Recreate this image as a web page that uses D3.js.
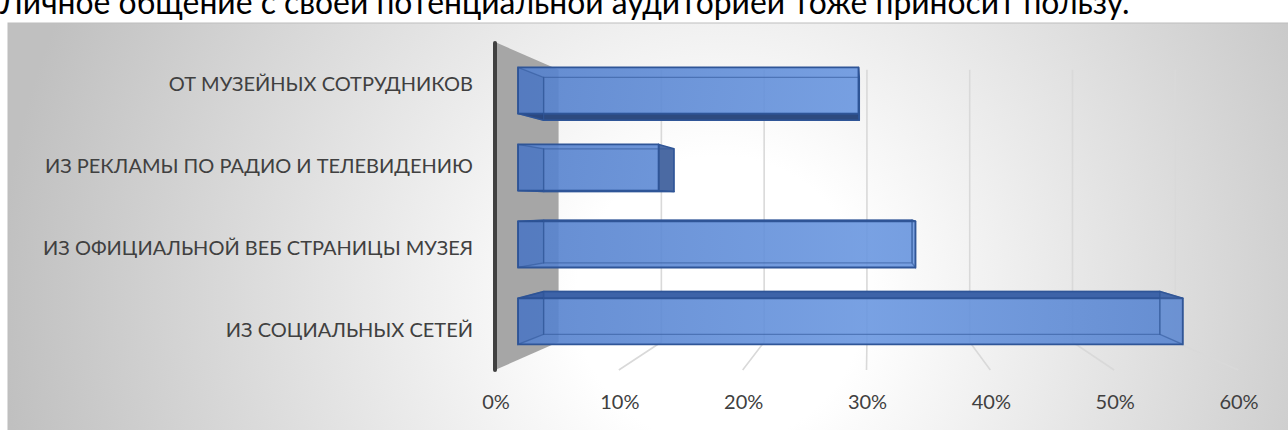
<!DOCTYPE html>
<html>
<head>
<meta charset="utf-8">
<script src="https://cdn.jsdelivr.net/npm/d3@7"></script>
<style>
  html, body { margin: 0; padding: 0; background: #ffffff; overflow: hidden; }
  svg { display: block; }
</style>
</head>
<body>
<svg id="chart" width="1288" height="430"></svg>
<script>
// ---------------- data ----------------
const titleText = "Личное общение с своей потенциальной аудиторией тоже приносит пользу.";
const categories = [
  "ИЗ СОЦИАЛЬНЫХ СЕТЕЙ",
  "ИЗ ОФИЦИАЛЬНОЙ ВЕБ СТРАНИЦЫ МУЗЕЯ",
  "ИЗ РЕКЛАМЫ ПО РАДИО И ТЕЛЕВИДЕНИЮ",
  "ОТ МУЗЕЙНЫХ СОТРУДНИКОВ"
];
const values = [0.572, 0.342, 0.121, 0.293];
const tickValues = [0, 0.1, 0.2, 0.3, 0.4, 0.5, 0.6];
const tickLabels = ["0%", "10%", "20%", "30%", "40%", "50%", "60%"];

// ---------------- layout ----------------
const W = 1288, H = 430;
const svg = d3.select("#chart");
const defs = svg.append("defs");

// perspective: vanishing point and depth scales
const VP = [869, 205];
const S_WALL = 0.83, S_FRONT = 0.9385, S_BACK = 0.870;
const P = (X, Y, s) => [VP[0] + (X - VP[0]) * s, VP[1] + (Y - VP[1]) * s];

// front-plane scales
const x = d3.scaleLinear().domain([0, 0.6]).range([495, 1238]);
const y = d3.scaleBand().domain(categories).range([370, 42]);
const barH = y.bandwidth() * 0.6;

// background gradient
const rg = defs.append("radialGradient").attr("id", "bg")
  .attr("gradientUnits", "userSpaceOnUse")
  .attr("cx", 720).attr("cy", 300).attr("r", 720);
rg.append("stop").attr("offset", 0).attr("stop-color", "#ffffff");
rg.append("stop").attr("offset", 0.2).attr("stop-color", "#ffffff");
rg.append("stop").attr("offset", 1).attr("stop-color", "#c0c0c0");

const fg = defs.append("linearGradient").attr("id", "barFront")
  .attr("gradientUnits", "userSpaceOnUse")
  .attr("x1", 500).attr("x2", 1200).attr("y1", 0).attr("y2", 0);
fg.append("stop").attr("offset", 0).attr("stop-color", "#5480cc");
fg.append("stop").attr("offset", 0.53).attr("stop-color", "#6a97e0");
fg.append("stop").attr("offset", 1).attr("stop-color", "#5884cf");

// title (cut at the top edge)
const title = svg.append("text")
  .attr("x", 0).attr("y", 14)
  .attr("font-family", "Lato, 'Open Sans', sans-serif")
  .attr("font-size", 30)
  .attr("fill", "#000000")
  .text(titleText);
const tw = title.node().getComputedTextLength();
title.attr("font-size", 30 * 1130 / tw);

// chart box
svg.append("rect")
  .attr("x", 8).attr("y", 23).attr("width", W - 8 + 2).attr("height", H - 23 + 2)
  .attr("fill", "url(#bg)")
  .attr("stroke", "#bdbdbd").attr("stroke-width", 1);

const line = d3.line();

// gridlines (back wall + floor)
const grid = svg.append("g");
tickValues.filter(t => t > 0).forEach(t => {
  const X = x(t);
  const bTop = P(X, 42, S_WALL), bBot = P(X, 370, S_WALL), fBot = [X, 370];
  grid.append("path").attr("d", line([bTop, bBot, fBot]))
    .attr("fill", "none").attr("stroke", "#d9d9d9").attr("stroke-width", 1.6);
});

// left wall
const X0 = x(0);
svg.append("path")
  .attr("d", line([[X0, 42], P(X0, 42, S_WALL), P(X0, 370, S_WALL), [X0, 370]]) + "Z")
  .attr("fill", "#a6a6a6");
svg.append("line")
  .attr("x1", X0).attr("x2", X0).attr("y1", 43).attr("y2", 370)
  .attr("stroke", "#404040").attr("stroke-width", 4).attr("stroke-linecap", "round");

// bars
const edge = "#2f5597";
const barsG = svg.append("g");
categories.forEach((c, i) => {
  const v = values[i];
  const Xa = x(0), Xb = x(v);
  const cy = y(c) + y.bandwidth() / 2;
  const Yt = cy - barH / 2, Yb = cy + barH / 2;
  const F = (X, Y) => P(X, Y, S_FRONT), B = (X, Y) => P(X, Y, S_BACK);
  const g = barsG.append("g");
  const face = (pts) => g.append("path").attr("d", line(pts) + "Z");

  const back = [B(Xa, Yt), B(Xb, Yt), B(Xb, Yb), B(Xa, Yb)];
  const left = [F(Xa, Yt), B(Xa, Yt), B(Xa, Yb), F(Xa, Yb)];
  const right = [F(Xb, Yt), B(Xb, Yt), B(Xb, Yb), F(Xb, Yb)];
  const top = [F(Xa, Yt), F(Xb, Yt), B(Xb, Yt), B(Xa, Yt)];
  const bottom = [F(Xa, Yb), F(Xb, Yb), B(Xb, Yb), B(Xa, Yb)];
  const front = [F(Xa, Yt), F(Xb, Yt), F(Xb, Yb), F(Xa, Yb)];

  const topVis = Yt > VP[1], botVis = Yb < VP[1], rightVis = Xb < VP[0];

  // visible side faces (opaque)
  if (topVis) face(top).attr("fill", "#3d63a8").attr("stroke", edge).attr("stroke-width", 1.5).attr("stroke-linejoin", "round");
  if (botVis) face(bottom).attr("fill", "#2d4a7f").attr("stroke", edge).attr("stroke-width", 1.5).attr("stroke-linejoin", "round");
  if (rightVis) face(right).attr("fill", "#4b6aa3").attr("stroke", edge).attr("stroke-width", 1.5).attr("stroke-linejoin", "round");

  // front face (slightly transparent)
  face(front).attr("fill", "url(#barFront)").attr("fill-opacity", 0.9)
    .attr("stroke", edge).attr("stroke-width", 1.8).attr("stroke-linejoin", "round");

  // hidden faces seen through the transparent front
  face(left).attr("fill", "#1f3f80").attr("fill-opacity", 0.13)
    .attr("stroke", edge).attr("stroke-opacity", 0.55).attr("stroke-width", 1.3);
  face(back).attr("fill", "none")
    .attr("stroke", edge).attr("stroke-opacity", 0.55).attr("stroke-width", 1.3);
  if (!rightVis) face(right).attr("fill", "#ffffff").attr("fill-opacity", 0.04)
    .attr("stroke", edge).attr("stroke-opacity", 0.55).attr("stroke-width", 1.3);
});

// category labels
const fontFam = "Lato, 'Open Sans', sans-serif";
const catG = svg.append("g");
categories.forEach(c => {
  catG.append("text")
    .attr("x", 473).attr("y", y(c) + y.bandwidth() / 2)
    .attr("text-anchor", "end").attr("dominant-baseline", "central")
    .attr("font-family", fontFam).attr("font-size", 20)
    .attr("fill", "#404040")
    .text(c);
});

// tick labels
const tickG = svg.append("g");
tickValues.forEach((t, i) => {
  tickG.append("text")
    .attr("x", x(t) + 1).attr("y", 401)
    .attr("text-anchor", "middle").attr("dominant-baseline", "central")
    .attr("font-family", fontFam).attr("font-size", 20)
    .attr("fill", "#404040")
    .text(tickLabels[i]);
});
</script>
</body>
</html>
